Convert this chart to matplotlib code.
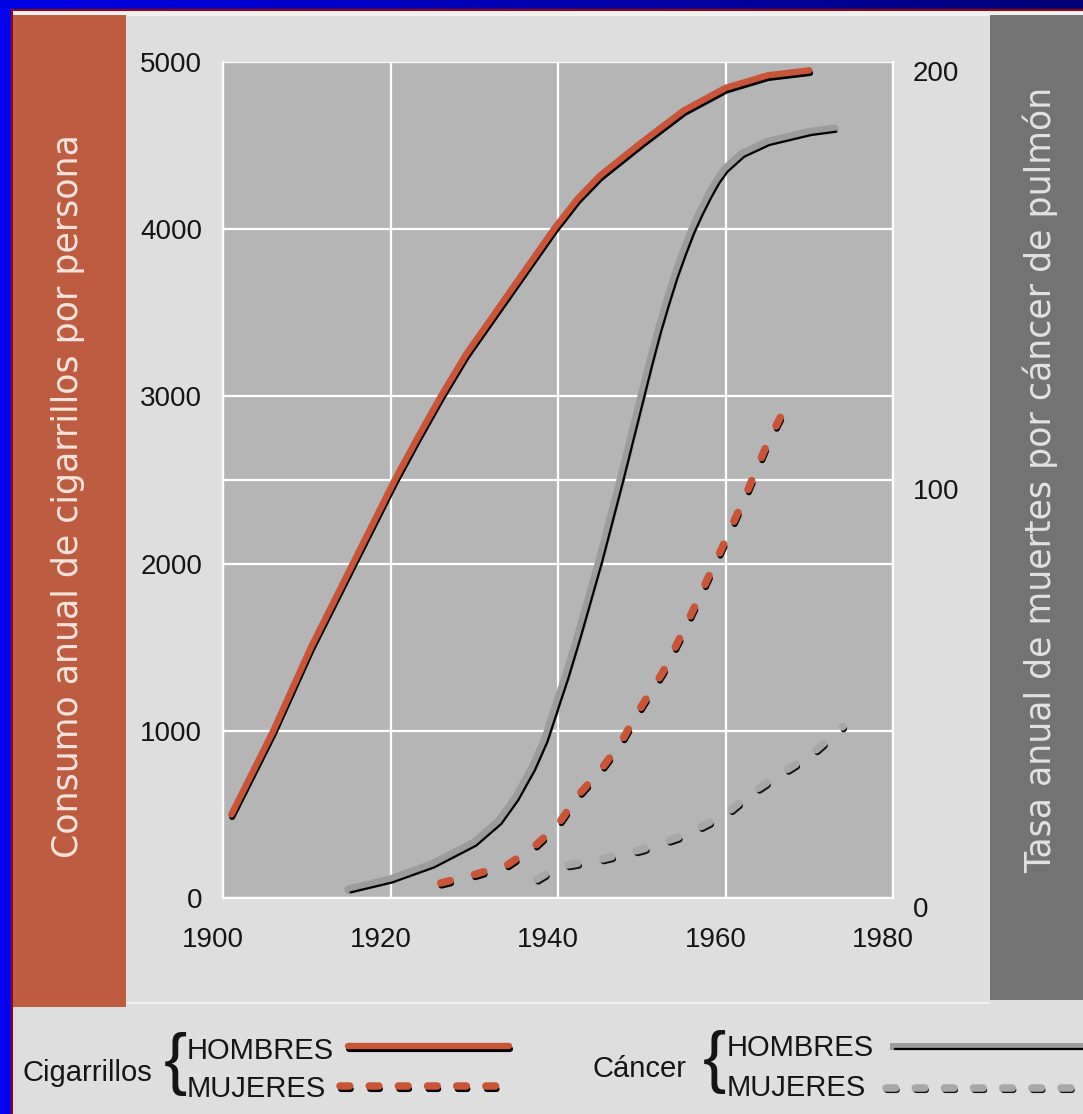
import numpy as np
import matplotlib
matplotlib.use("Agg")
import matplotlib.pyplot as plt
import matplotlib.patheffects as pe
from matplotlib.patches import Rectangle
from matplotlib.lines import Line2D
from matplotlib.colors import LinearSegmentedColormap
from matplotlib.transforms import ScaledTranslation

plt.rcParams['font.family'] = ['Liberation Sans', 'DejaVu Sans']
plt.rcParams['lines.scale_dashes'] = False

# data
# cigarettes per person per year (left axis)
years_cig_men = [1901, 1906, 1910.5, 1915.5, 1920.5, 1923.2, 1926, 1929, 1932.5, 1936,
                 1939.5, 1942.3, 1945, 1950, 1955, 1960, 1965, 1970]
cig_men = [500, 1000, 1500, 2000, 2500, 2750, 3000, 3250, 3500, 3750,
           4000, 4180, 4320, 4520, 4710, 4845, 4920, 4950]

years_cig_women = [1926, 1930, 1934, 1937, 1940, 1942.5, 1945, 1947.5, 1950, 1952.5,
                   1955, 1957.5, 1960, 1962.5, 1965, 1967.3]
cig_women = [90, 140, 200, 300, 440, 620, 760, 930, 1150, 1350,
             1600, 1870, 2140, 2420, 2720, 2950]

# lung cancer death rate (right axis)
years_cancer_men = [1915, 1920, 1925, 1930, 1933, 1935, 1937, 1938.5, 1940, 1941,
                    1942.5, 1945, 1947.5, 1950, 1951, 1952, 1953, 1954, 1955, 1956,
                    1957, 1958, 1959, 1960, 1962, 1965, 1970, 1973]
cancer_men = [2, 4.4, 8, 13.2, 18.4, 24, 31.2, 38, 47.2, 53.2,
              63.2, 80.8, 100, 120, 128, 135.6, 142.4, 148.8, 154.4, 159.6,
              164, 168, 171.6, 174.4, 178, 180.8, 183.2, 184]

years_cancer_women = [1937.5, 1940, 1945, 1950, 1955, 1960, 1963, 1966, 1970, 1974]
cancer_women = [4.5, 7.5, 9.2, 11.6, 15, 20, 25, 29, 34, 41]

x_ticks = [1900, 1920, 1940, 1960, 1980]
left_ticks = [0, 1000, 2000, 3000, 4000, 5000]
right_ticks = [0, 100, 200]

left_title = "Consumo anual de cigarrillos por persona"
right_title = "Tasa anual de muertes por cáncer de pulmón"

RED = '#c85537'
GRAY = '#9c9c9c'
GRAY_D = '#a8a8a8'
PANEL = '#dedede'

W, H = 1083, 1114
fig = plt.figure(figsize=(W / 100, H / 100), dpi=100, facecolor=PANEL)


def box(x0, y0, x1, y1, color):
    fig.patches.append(Rectangle((x0 / W, 1 - y1 / H), (x1 - x0) / W, (y1 - y0) / H,
                                 transform=fig.transFigure, color=color, zorder=-5, lw=0))


# slide frame and side bands
box(0, 0, 11, H, '#0000ee')
box(11, 9, 12.5, H, '#a00000')
box(11, 9, W, 11, '#a00000')
box(12.5, 11, W, 16, '#f0f0f0')
box(12.5, 15, 126, 1007, '#be5c42')
box(990, 15, W, 1000, '#737373')
box(126, 1002, 990, 1004, '#f2f2f2')

bar = fig.add_axes([0, 1 - 9 / H, 1, 9 / H])
bar.imshow(np.linspace(0, 1, 256)[None, :], aspect='auto',
           cmap=LinearSegmentedColormap.from_list('blu', ['#0000e8', '#000078']))
bar.axis('off')

# main axes
ax = fig.add_axes([223 / W, 1 - 898 / H, (893 - 223) / W, (898 - 62) / H])
ax.set_facecolor('#b5b5b5')
ax.set_xlim(1900, 1980)
ax.set_ylim(0, 5000)
ax.set_xticks(x_ticks)
ax.set_yticks(left_ticks)
ax.set_yticks([2500], minor=True)
ax.grid(True, which='both', color='white', lw=1.6)
ax.set_axisbelow(True)
ax.tick_params(which='both', length=0, labelsize=20, labelcolor='#151515')
ax.tick_params(axis='y', pad=15)
ax.tick_params(axis='x', pad=21)
for s in ['left', 'right', 'bottom']:
    ax.spines[s].set_color('white')
    ax.spines[s].set_linewidth(1.6)
ax.spines['top'].set_visible(False)
for lab in ax.get_xticklabels():
    lab.set_transform(lab.get_transform() + ScaledTranslation(-0.10, 0, fig.dpi_scale_trans))

ax2 = ax.twinx()
ax2.set_ylim(0, 200)
ax2.set_yticks(right_ticks)
ax2.tick_params(length=0, labelsize=20, labelcolor='#151515', pad=14)
for s in ax2.spines.values():
    s.set_visible(False)
for lab in ax2.get_yticklabels():
    lab.set_transform(lab.get_transform() + ScaledTranslation(0, -0.09, fig.dpi_scale_trans))

red_fx = [pe.Stroke(offset=(0.6, -1.9), linewidth=4.4, foreground='black'), pe.Normal()]
gray_fx = [pe.Normal(), pe.Stroke(offset=(1.4, -2.0), linewidth=1.6, foreground='black')]
grayd_fx = [pe.Stroke(offset=(0.9, -1.7), linewidth=4.4, foreground='#111111'), pe.Normal()]

ax.plot(years_cig_men, cig_men, color=RED, lw=4.6, solid_capstyle='round',
        solid_joinstyle='round', path_effects=red_fx)
ax.plot(years_cig_women, cig_women, color=RED, lw=5.4, dashes=(7, 18),
        dash_capstyle='round', path_effects=red_fx)
ax2.plot(years_cancer_men, cancer_men, color=GRAY, lw=6.2, solid_capstyle='round',
         solid_joinstyle='round', path_effects=gray_fx)
ax2.plot(years_cancer_women, cancer_women, color=GRAY_D, lw=5.4, dashes=(7, 18),
         dash_capstyle='round', path_effects=grayd_fx)

# side titles
fig.text(68 / W, 1 - 496 / H, left_title, rotation=90, ha='center', va='center',
         color='#f6e4de', fontsize=25, family=['DejaVu Sans'])
fig.text(1040 / W, 1 - 480 / H, right_title, rotation=90, ha='center', va='center',
         color='#e2e2e2', fontsize=25, family=['DejaVu Sans'])


# legend strip
def ftxt(x, y, s, **kw):
    fig.text(x / W, 1 - y / H, s, color='#151515', va='baseline', ha='left', **kw)


def fline(x0, x1, y, **kw):
    fig.add_artist(Line2D([x0 / W, x1 / W], [1 - y / H, 1 - y / H],
                          transform=fig.transFigure, **kw))


ftxt(23, 1081, 'Cigarrillos', fontsize=21)
fig.text(175 / W, 1 - 1064 / H, '{', fontsize=50, ha='center', va='center', color='#151515')
ftxt(187, 1059, 'HOMBRES', fontsize=21)
ftxt(187, 1097, 'MUJERES', fontsize=21)
fline(348, 509, 1046, color=RED, lw=4.6, solid_capstyle='round', path_effects=red_fx)
fline(340, 506, 1086, color=RED, lw=5.4, dashes=(7, 14), dash_capstyle='round',
      path_effects=red_fx)

ftxt(592, 1077, 'Cáncer', fontsize=21)
fig.text(714 / W, 1 - 1062 / H, '{', fontsize=50, ha='center', va='center', color='#151515')
ftxt(727, 1056, 'HOMBRES', fontsize=21)
ftxt(727, 1096, 'MUJERES', fontsize=21)
fline(893, 1090, 1046, color=GRAY, lw=5, path_effects=gray_fx)
fline(886, 1090, 1088, color=GRAY_D, lw=5.4, dashes=(7, 14), dash_capstyle='round',
      path_effects=grayd_fx)

fig.savefig('out.png', dpi=100, facecolor=fig.get_facecolor())
